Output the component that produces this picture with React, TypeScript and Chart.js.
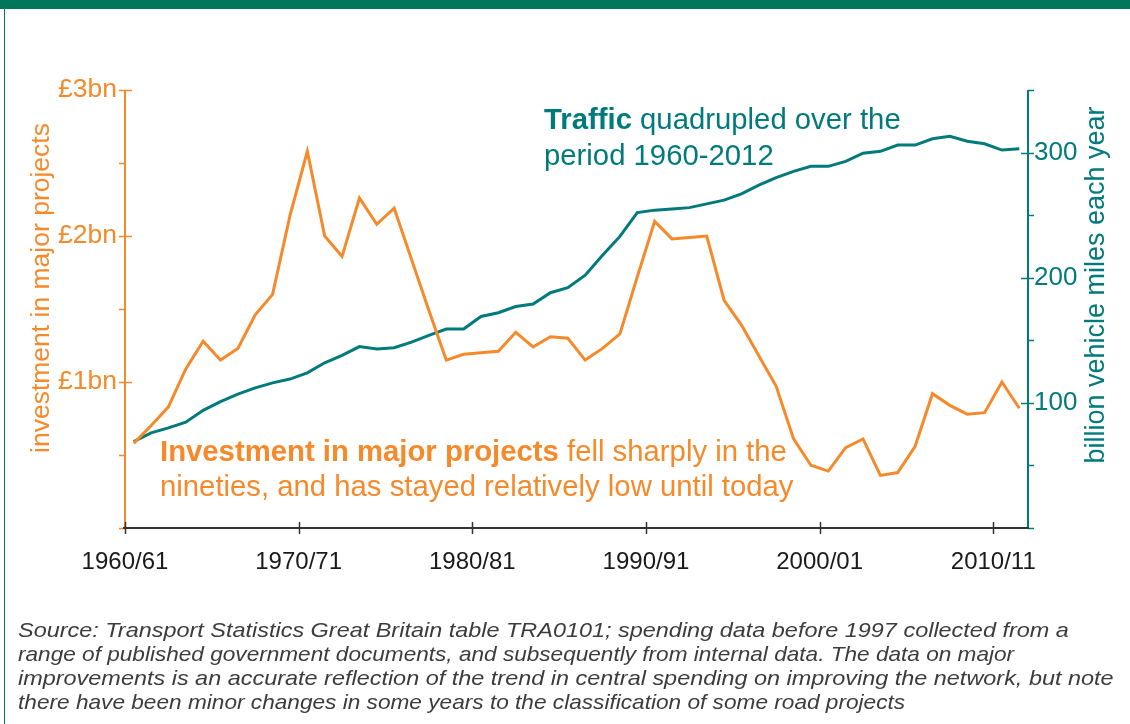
import React, { useEffect, useRef } from 'react';
import { Chart, registerables } from 'chart.js';

Chart.register(...registerables);

const FONT = '"Liberation Sans", Arial, Helvetica, sans-serif';
const ORANGE = '#F6892A';
const TEAL = '#007A7A';
const BAND = '#00765A';
const AXIS_DARK = '#333333';

// Financial years (start year), 1960/61 .. 2011/12
const years = [
  1960, 1961, 1962, 1963, 1964, 1965, 1966, 1967, 1968, 1969,
  1970, 1971, 1972, 1973, 1974, 1975, 1976, 1977, 1978, 1979,
  1980, 1981, 1982, 1983, 1984, 1985, 1986, 1987, 1988, 1989,
  1990, 1991, 1992, 1993, 1994, 1995, 1996, 1997, 1998, 1999,
  2000, 2001, 2002, 2003, 2004, 2005, 2006, 2007, 2008, 2009,
  2010, 2011,
];

// Investment in major projects (£bn)
const investment = [
  0.58, 0.70, 0.83, 1.09, 1.28, 1.15, 1.23, 1.46, 1.60, 2.14,
  2.58, 2.00, 1.86, 2.26, 2.08, 2.19, 1.84, 1.49, 1.15, 1.19,
  1.20, 1.21, 1.34, 1.24, 1.31, 1.30, 1.15, 1.23, 1.33, 1.72,
  2.10, 1.98, 1.99, 2.00, 1.56, 1.39, 1.18, 0.97, 0.61, 0.43,
  0.39, 0.55, 0.61, 0.36, 0.38, 0.56, 0.92, 0.84, 0.78, 0.79,
  1.00, 0.82,
];

// Traffic (billion vehicle miles each year)
const traffic = [
  69, 76, 80, 84.5, 94, 101, 107, 112, 116, 119,
  124, 132, 138, 145, 143, 144, 148.5, 154, 159, 159,
  169, 172, 177, 179, 188, 192, 202, 218, 233, 252,
  254, 255, 256, 259, 262, 267, 274, 280, 285, 289,
  289, 293, 299.5, 301, 306, 306, 311, 313, 309, 307,
  302, 303,
];

// X-axis tick years and labels
const xTickYears = [1960, 1970, 1980, 1990, 2000, 2010];
const xTickLabels = ['1960/61', '1970/71', '1980/81', '1990/91', '2000/01', '2010/11'];

// Left-axis labels (£bn) and right-axis labels
const leftLabelValues = [1, 2, 3];
const leftLabels = ['£1bn', '£2bn', '£3bn'];
const rightLabelValues = [100, 200, 300];

const leftTitle = 'investment in major projects';
const rightTitle = 'billion vehicle miles each year';

const trafficNote = [
  [{ text: 'Traffic', bold: true }, { text: ' quadrupled over the', bold: false }],
  [{ text: 'period 1960-2012', bold: false }],
];
const investmentNote = [
  [{ text: 'Investment in major projects', bold: true }, { text: ' fell sharply in the', bold: false }],
  [{ text: 'nineties, and has stayed relatively low until today', bold: false }],
];

const sourceLines = [
  'Source: Transport Statistics Great Britain table TRA0101; spending data before 1997 collected from a',
  'range of published government documents, and subsequently from internal data. The data on major',
  'improvements is an accurate reflection of the trend in central spending on improving the network, but note',
  'there have been minor changes in some years to the classification of some road projects',
];
const sourceLineStretch = [1.116, 1.076, 1.116, 1.078];

function drawRich(ctx: CanvasRenderingContext2D, x: number, y: number, parts: { text: string; bold: boolean }[], size: number, color: string) {
  let cx = x;
  ctx.fillStyle = color;
  ctx.textBaseline = 'alphabetic';
  ctx.textAlign = 'left';
  for (const p of parts) {
    ctx.font = `${p.bold ? 'bold ' : ''}${size}px ${FONT}`;
    ctx.fillText(p.text, cx, y);
    cx += ctx.measureText(p.text).width;
  }
}

const customAxes = {
  id: 'customAxes',
  beforeDatasetsDraw(chart: any) {
    const ctx: CanvasRenderingContext2D = chart.ctx;
    const { left, right, top, bottom } = chart.chartArea;
    const ys = chart.scales.y;
    const yr = chart.scales.y1;
    const xs = chart.scales.x;
    ctx.save();
    ctx.lineCap = 'butt';
    // left axis
    ctx.strokeStyle = ORANGE;
    ctx.lineWidth = 2;
    ctx.beginPath();
    ctx.moveTo(left, top);
    ctx.lineTo(left, bottom);
    ctx.stroke();
    ys.ticks.forEach((t: any) => {
      const py = Math.round(ys.getPixelForValue(t.value)) + 0.5;
      const major = t.value > 0 && Math.abs(t.value - Math.round(t.value)) < 1e-6;
      ctx.lineWidth = 1.5;
      ctx.beginPath();
      ctx.moveTo(left - 6, py);
      ctx.lineTo(major ? left + 7 : left, py);
      ctx.stroke();
    });
    // right axis
    ctx.strokeStyle = TEAL;
    ctx.lineWidth = 2;
    ctx.beginPath();
    ctx.moveTo(right, top);
    ctx.lineTo(right, bottom);
    ctx.stroke();
    yr.ticks.forEach((t: any) => {
      const py = Math.round(yr.getPixelForValue(t.value)) + 0.5;
      const major = t.value > 0 && t.value % 100 === 0;
      ctx.lineWidth = 1.5;
      ctx.beginPath();
      ctx.moveTo(major ? right - 7 : right, py);
      ctx.lineTo(right + 6, py);
      ctx.stroke();
    });
    // x axis
    ctx.strokeStyle = AXIS_DARK;
    ctx.lineWidth = 2;
    ctx.beginPath();
    ctx.moveTo(left - 2, bottom);
    ctx.lineTo(right + 1, bottom);
    ctx.stroke();
    ctx.lineWidth = 1.5;
    xTickYears.forEach((v) => {
      const px = Math.round(xs.getPixelForValue(v)) + 0.5;
      ctx.beginPath();
      ctx.moveTo(px, bottom - 6);
      ctx.lineTo(px, bottom + 6);
      ctx.stroke();
    });
    ctx.restore();
  },
  afterDraw(chart: any) {
    const ctx: CanvasRenderingContext2D = chart.ctx;
    ctx.save();
    // axis titles, rotated
    ctx.textAlign = 'center';
    ctx.textBaseline = 'middle';
    ctx.fillStyle = ORANGE;
    ctx.font = `26.5px ${FONT}`;
    ctx.save();
    ctx.translate(42, 288);
    ctx.rotate(-Math.PI / 2);
    ctx.fillText(leftTitle, 0, 0);
    ctx.restore();
    ctx.fillStyle = TEAL;
    ctx.font = `27px ${FONT}`;
    ctx.save();
    ctx.translate(1097, 285);
    ctx.rotate(-Math.PI / 2);
    ctx.fillText(rightTitle, 0, 0);
    ctx.restore();
    // annotations
    drawRich(ctx, 544, 129, trafficNote[0], 29.3, TEAL);
    drawRich(ctx, 544, 165, trafficNote[1], 29.3, TEAL);
    drawRich(ctx, 160, 461, investmentNote[0], 29.3, ORANGE);
    drawRich(ctx, 160, 496, investmentNote[1], 29.3, ORANGE);
    ctx.restore();
  },
};

export default function App() {
  const canvasRef = useRef<HTMLCanvasElement | null>(null);

  useEffect(() => {
    const canvas = canvasRef.current;
    if (!canvas) return;
    const chart = new Chart(canvas, {
      type: 'line',
      data: {
        datasets: [
          {
            label: 'Investment in major projects',
            data: years.map((y, i) => ({ x: y + 0.5, y: investment[i] })),
            borderColor: ORANGE,
            borderWidth: 3,
            pointRadius: 0,
            tension: 0,
            borderJoinStyle: 'miter',
            yAxisID: 'y',
          },
          {
            label: 'Traffic',
            data: years.map((y, i) => ({ x: y + 0.5, y: traffic[i] })),
            borderColor: TEAL,
            borderWidth: 3,
            pointRadius: 0,
            tension: 0,
            borderJoinStyle: 'miter',
            yAxisID: 'y1',
          },
        ],
      },
      options: {
        responsive: false,
        animation: false,
        devicePixelRatio: 1,
        layout: { padding: { top: 90, left: 0, right: 0, bottom: 0 } },
        plugins: {
          legend: { display: false },
          tooltip: { enabled: false },
          title: { display: false },
        },
        scales: {
          x: {
            type: 'linear',
            min: 1960,
            max: 2012,
            grid: { display: false, drawTicks: false },
            border: { display: false },
            afterBuildTicks: (scale: any) => {
              scale.ticks = xTickYears.map((v) => ({ value: v }));
            },
            afterFit: (scale: any) => {
              scale.height = 196;
            },
            ticks: {
              autoSkip: false,
              maxRotation: 0,
              padding: 20,
              color: '#1a1a1a',
              font: { family: FONT, size: 24 },
              callback: (v: any) => {
                const idx = xTickYears.indexOf(Number(v));
                return idx >= 0 ? xTickLabels[idx] : '';
              },
            },
          },
          y: {
            type: 'linear',
            position: 'left',
            min: 0,
            max: 3,
            grid: { display: false, drawTicks: false },
            border: { display: false },
            afterFit: (scale: any) => {
              scale.width = 125;
            },
            ticks: {
              stepSize: 0.5,
              padding: 8,
              color: ORANGE,
              font: { family: FONT, size: 26.5 },
              callback: (v: any) => {
                const idx = leftLabelValues.indexOf(Number(v));
                return idx >= 0 ? leftLabels[idx] : '';
              },
            },
          },
          y1: {
            type: 'linear',
            position: 'right',
            min: 0,
            max: 350,
            grid: { display: false, drawTicks: false },
            border: { display: false },
            afterFit: (scale: any) => {
              scale.width = 102;
            },
            ticks: {
              stepSize: 50,
              padding: 6,
              color: TEAL,
              font: { family: FONT, size: 26 },
              callback: (v: any) => (rightLabelValues.indexOf(Number(v)) >= 0 ? String(v) : ''),
            },
          },
        },
      },
      plugins: [customAxes],
    } as any);
    return () => chart.destroy();
  }, []);

  return (
    <div
      style={{
        position: 'fixed',
        left: 0,
        top: 0,
        width: 1130,
        height: 724,
        background: '#ffffff',
        overflow: 'hidden',
        fontFamily: FONT,
      }}
    >
      <div style={{ position: 'absolute', left: 0, top: 0, width: 1130, height: 9, background: BAND }} />
      <div style={{ position: 'absolute', left: 4, top: 0, width: 1, height: 724, background: BAND }} />
      <canvas
        ref={canvasRef}
        width={1130}
        height={724}
        style={{ position: 'absolute', left: 0, top: 0, width: 1130, height: 724 }}
      />
      <div
        style={{
          position: 'absolute',
          left: 18,
          top: 618,
          fontStyle: 'italic',
          fontSize: 21,
          lineHeight: '24px',
          color: '#3c3c3c',
          whiteSpace: 'nowrap',
        }}
      >
        {sourceLines.map((l, i) => (
          <div key={i} style={{ transform: `scaleX(${sourceLineStretch[i]})`, transformOrigin: 'left top' }}>
            {l}
          </div>
        ))}
      </div>
    </div>
  );
}
